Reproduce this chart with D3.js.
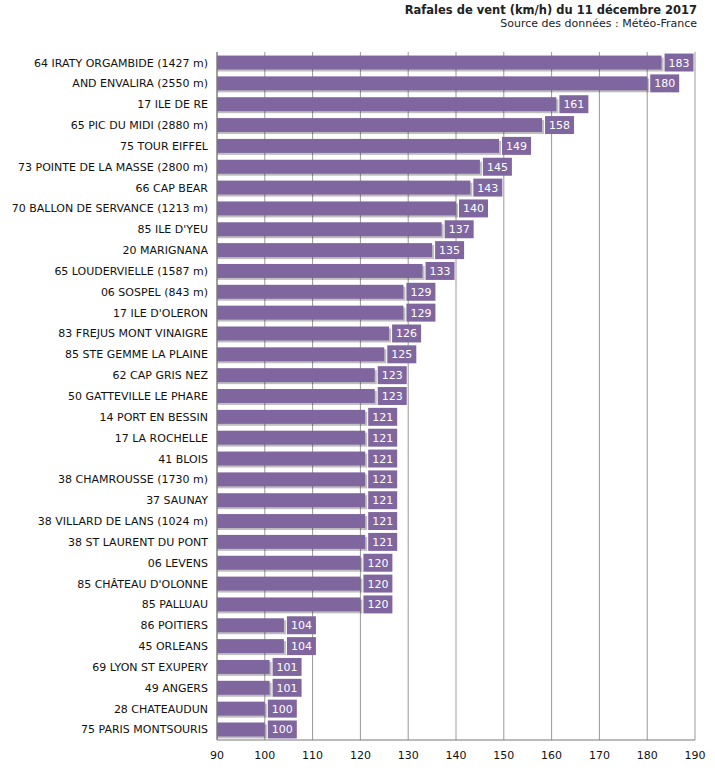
<!DOCTYPE html>
<html><head><meta charset="utf-8">
<script src="https://cdn.jsdelivr.net/npm/d3@7"></script>
<style>body{margin:0;background:#fff;font-family:"DejaVu Sans",Verdana,sans-serif}</style>
</head><body><svg id="chart"></svg>
<script>
var stations = ["64 IRATY ORGAMBIDE (1427 m)","AND ENVALIRA (2550 m)","17 ILE DE RE","65 PIC DU MIDI (2880 m)","75 TOUR EIFFEL","73 POINTE DE LA MASSE (2800 m)","66 CAP BEAR","70 BALLON DE SERVANCE (1213 m)","85 ILE D'YEU","20 MARIGNANA","65 LOUDERVIELLE (1587 m)","06 SOSPEL (843 m)","17 ILE D'OLERON","83 FREJUS MONT VINAIGRE","85 STE GEMME LA PLAINE","62 CAP GRIS NEZ","50 GATTEVILLE LE PHARE","14 PORT EN BESSIN","17 LA ROCHELLE","41 BLOIS","38 CHAMROUSSE (1730 m)","37 SAUNAY","38 VILLARD DE LANS (1024 m)","38 ST LAURENT DU PONT","06 LEVENS","85 CHÂTEAU D'OLONNE","85 PALLUAU","86 POITIERS","45 ORLEANS","69 LYON ST EXUPERY","49 ANGERS","28 CHATEAUDUN","75 PARIS MONTSOURIS"];
var gusts = [183,180,161,158,149,145,143,140,137,135,133,129,129,126,125,123,123,121,121,121,121,121,121,121,120,120,120,104,104,101,101,100,100];
var ticks = [90,100,110,120,130,140,150,160,170,180,190];

var W = 715, H = 774;
var svg = d3.select("#chart").attr("width", W).attr("height", H);
var x = d3.scaleLinear().domain([90,190]).range([217,695]);
var y = d3.scaleBand().domain(stations).range([52,740]).paddingInner(0.33).paddingOuter(0.17);

svg.append("text").attr("x",697).attr("y",14).attr("text-anchor","end")
  .attr("font-size",11.5).attr("font-weight","bold").attr("fill","#222")
  .text("Rafales de vent (km/h) du 11 décembre 2017");
svg.append("text").attr("x",697).attr("y",27).attr("text-anchor","end")
  .attr("font-size",11).attr("fill","#222").text("Source des données : Météo-France");

// grid
svg.selectAll("line.grid").data(ticks).enter().append("line")
  .attr("x1",d=>x(d)).attr("x2",d=>x(d)).attr("y1",52).attr("y2",740)
  .attr("stroke","#999").attr("stroke-width",1);

var color = "#80669f";
var g = svg.selectAll("g.bar").data(stations).enter().append("g");
g.append("rect").attr("x",x(90)).attr("y",d=>y(d)+2)
  .attr("width",(d,i)=>x(gusts[i])-x(90)+2).attr("height",y.bandwidth())
  .attr("fill","#000").attr("opacity",0.25);
g.append("rect").attr("x",x(90)).attr("y",d=>y(d))
  .attr("width",(d,i)=>x(gusts[i])-x(90)).attr("height",y.bandwidth())
  .attr("fill",color);
g.append("rect").attr("x",(d,i)=>x(gusts[i])+3).attr("y",d=>y(d)-2)
  .attr("width",29).attr("height",y.bandwidth()+4).attr("fill",color);
g.append("text").attr("x",(d,i)=>x(gusts[i])+17.5).attr("y",d=>y(d)+y.bandwidth()/2+4)
  .attr("text-anchor","middle").attr("font-size",11).attr("fill","#fff")
  .text((d,i)=>gusts[i]);
g.append("text").attr("x",208).attr("y",d=>y(d)+y.bandwidth()/2+4)
  .attr("text-anchor","end").attr("font-size",11).attr("fill","#111").text(d=>d);

// axes lines
svg.append("line").attr("x1",x(90)).attr("x2",x(90)).attr("y1",52).attr("y2",740).attr("stroke","#777");
svg.append("line").attr("x1",x(90)).attr("x2",x(190)).attr("y1",740).attr("y2",740).attr("stroke","#777");
svg.selectAll("text.tick").data(ticks).enter().append("text")
  .attr("x",d=>x(d)).attr("y",759).attr("text-anchor","middle")
  .attr("font-size",11).attr("fill","#111").text(d=>d);
</script></body></html>
